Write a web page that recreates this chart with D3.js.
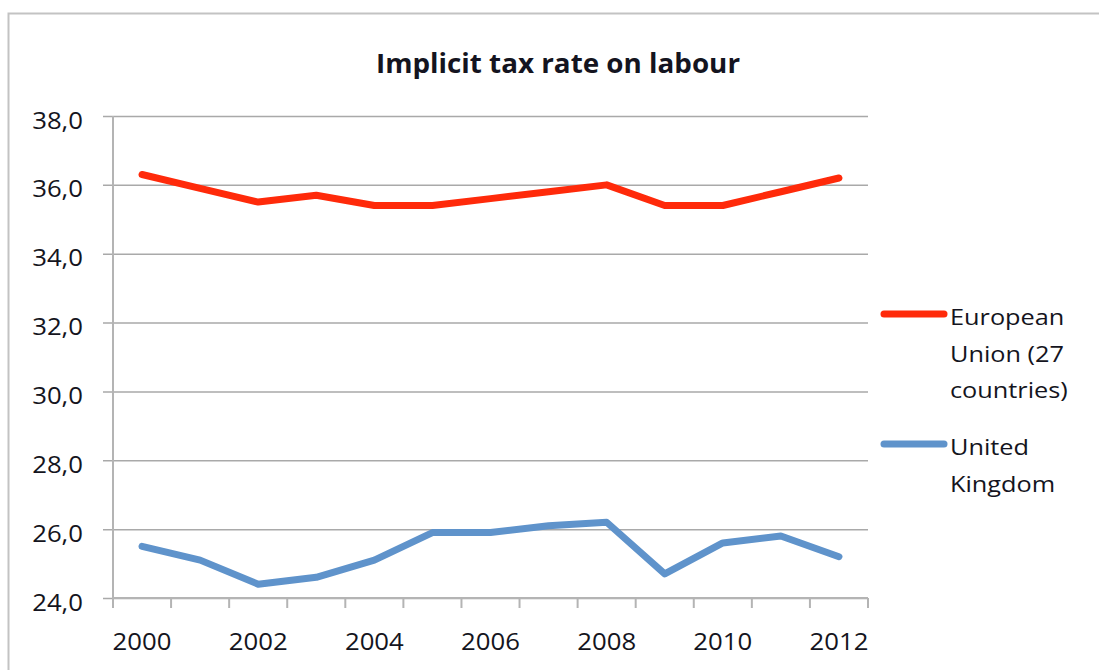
<!DOCTYPE html>
<html>
<head>
<meta charset="utf-8">
<script src="https://cdn.jsdelivr.net/npm/d3@7"></script>
<style>
  html, body { margin: 0; padding: 0; background: #fff; }
  svg { display: block; }
  text { font-family: "Open Sans", "DejaVu Sans", sans-serif; fill: #141420; }
</style>
</head>
<body>
<svg id="chart" width="1099" height="670"></svg>
<script>
// Implicit tax rate on labour, % (2000–2012)
const years = ["2000","2001","2002","2003","2004","2005","2006","2007","2008","2009","2010","2011","2012"];
const euValues = [36.3, 35.9, 35.5, 35.7, 35.4, 35.4, 35.6, 35.8, 36.0, 35.4, 35.4, 35.8, 36.2];
const ukValues = [25.5, 25.1, 24.4, 24.6, 25.1, 25.9, 25.9, 26.1, 26.2, 24.7, 25.6, 25.8, 25.2];
const yTicks = [24, 26, 28, 30, 32, 34, 36, 38];
const xLabelYears = ["2000","2002","2004","2006","2008","2010","2012"];
const seriesNames = [["European", "Union (27", "countries)"], ["United", "Kingdom"]];
const seriesColors = ["#ff2a0a", "#5f93cb"];

const svg = d3.select("#chart");
const SX = 1.12; // horizontal stretch applied to all labels

const plot = { left: 113, right: 868, top: 116, bottom: 598 };

const x = d3.scaleBand().domain(years).range([plot.left, plot.right]).padding(0);
const y = d3.scaleLinear().domain([24, 38]).range([plot.bottom, plot.top]);

// chart frame
svg.append("rect")
  .attr("x", 8.5).attr("y", 13.5)
  .attr("width", 1200).attr("height", 800)
  .attr("fill", "none").attr("stroke", "#c3c3c3").attr("stroke-width", 2);

// place a text label with a horizontal stretch
function label(parent, tx, ty, str, opts) {
  const g = parent.append("g").attr("transform", `translate(${tx},${ty}) scale(${opts.sx || SX},1)`);
  g.append("text")
    .attr("text-anchor", opts.anchor || "start")
    .style("font-size", opts.size + "px")
    .style("font-weight", opts.weight || 400)
    .text(str);
  return g;
}

// title
label(svg, 558, 73, "Implicit tax rate on labour", { anchor: "middle", size: 27, weight: 700, sx: 1.03 });

// horizontal gridlines with left tick stubs
const yAxis = d3.axisLeft(y).tickValues(yTicks)
  .tickSize(-(plot.right - plot.left))
  .tickSizeOuter(0)
  .tickFormat("");
const gy = svg.append("g").attr("transform", `translate(${plot.left},0)`).call(yAxis);
gy.select(".domain").remove();
gy.selectAll(".tick line").attr("stroke", "#a9a9a9").attr("stroke-width", 1.5).attr("x1", -10);

// y tick labels (comma decimal)
const fmt = v => d3.format(".1f")(v).replace(".", ",");
yTicks.forEach(v => label(svg, 83, y(v) + 12.5, fmt(v), { anchor: "end", size: 23 }));

// vertical axis line
svg.append("line")
  .attr("x1", plot.left).attr("x2", plot.left)
  .attr("y1", plot.top).attr("y2", plot.bottom + 10)
  .attr("stroke", "#b4b4b4").attr("stroke-width", 2);

// x-axis ticks between categories
const xBounds = years.map(d => x(d)).concat([plot.right]);
svg.append("g").selectAll("line").data(xBounds).join("line")
  .attr("x1", d => d).attr("x2", d => d)
  .attr("y1", plot.bottom).attr("y2", plot.bottom + 10)
  .attr("stroke", "#b4b4b4").attr("stroke-width", 2);
svg.append("line")
  .attr("x1", plot.left).attr("x2", plot.right)
  .attr("y1", plot.bottom).attr("y2", plot.bottom)
  .attr("stroke", "#b4b4b4").attr("stroke-width", 2);

// x tick labels
xLabelYears.forEach(yr => label(svg, x(yr) + x.bandwidth() / 2, 650, yr, { anchor: "middle", size: 23 }));

// series lines
const line = d3.line()
  .x((d, i) => x(years[i]) + x.bandwidth() / 2)
  .y(d => y(d));

[euValues, ukValues].forEach((vals, i) => {
  svg.append("path")
    .datum(vals)
    .attr("d", line)
    .attr("fill", "none")
    .attr("stroke", seriesColors[i])
    .attr("stroke-width", 7)
    .attr("stroke-linejoin", "round")
    .attr("stroke-linecap", "round");
});

// legend
const legendRows = [
  { lineY: 314, baselines: [325, 361.5, 398] },
  { lineY: 444, baselines: [455, 491.5] }
];
legendRows.forEach((row, i) => {
  svg.append("line")
    .attr("x1", 884).attr("x2", 944)
    .attr("y1", row.lineY).attr("y2", row.lineY)
    .attr("stroke", seriesColors[i]).attr("stroke-width", 7)
    .attr("stroke-linecap", "round");
  seriesNames[i].forEach((t, k) => label(svg, 950, row.baselines[k], t, { size: 22, sx: 1.15 }));
});
</script>
</body>
</html>
